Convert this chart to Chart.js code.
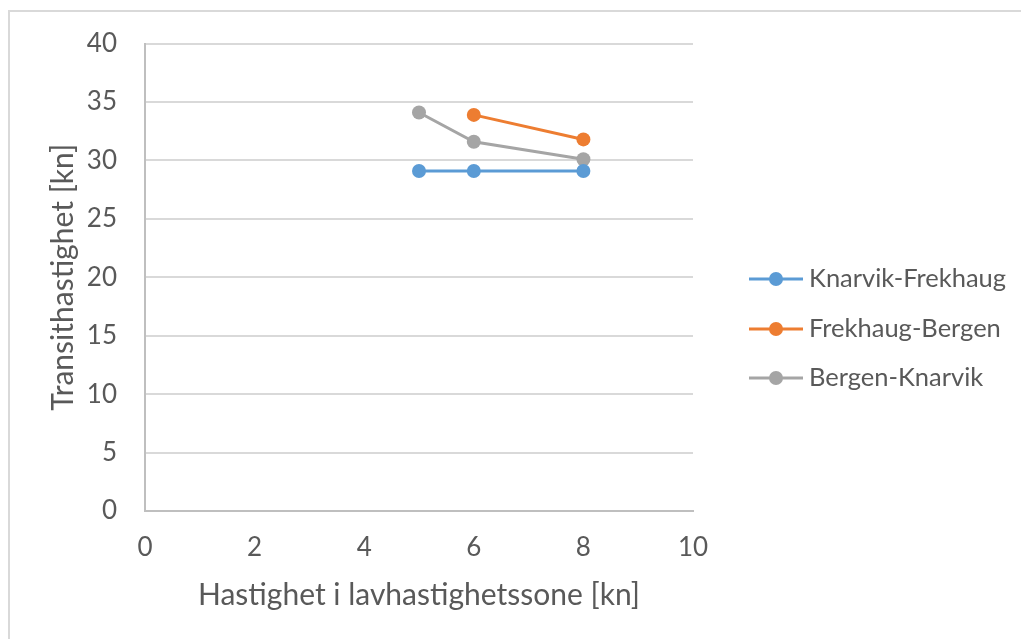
<!DOCTYPE html>
<html>
<head>
<meta charset="utf-8">
<script src="https://cdn.jsdelivr.net/npm/chart.js@4/dist/chart.umd.min.js"></script>
<style>
  html, body { margin: 0; padding: 0; background: #ffffff; }
  #wrap { width: 1021px; height: 639px; }
</style>
</head>
<body>
<div id="wrap"><canvas id="chart" width="1021" height="639"></canvas></div>
<script>
// Speed in the low-speed zone [kn] and resulting transit speed [kn] per route
const seriesNames = ['Knarvik-Frekhaug', 'Frekhaug-Bergen', 'Bergen-Knarvik'];
const knarvikFrekhaugX = [5, 6, 8];
const knarvikFrekhaugY = [29.1, 29.1, 29.1];
const frekhaugBergenX = [6, 8];
const frekhaugBergenY = [33.9, 31.8];
const bergenKnarvikX = [5, 6, 8];
const bergenKnarvikY = [34.1, 31.6, 30.1];
const seriesColors = ['#5B9BD5', '#ED7D31', '#A5A5A5'];

const xTitle = 'Hastighet i lavhastighetssone [kn]';
const yTitle = 'Transithastighet [kn]';

const FONT = 'Lato, "Open Sans", sans-serif';
const TEXT = '#595959';

function toPoints(xs, ys) {
  return xs.map((x, i) => ({ x: x, y: ys[i] }));
}

const seriesData = [
  toPoints(knarvikFrekhaugX, knarvikFrekhaugY),
  toPoints(frekhaugBergenX, frekhaugBergenY),
  toPoints(bergenKnarvikX, bergenKnarvikY)
];

const datasets = seriesNames.map((name, i) => ({
  label: name,
  data: seriesData[i],
  borderColor: seriesColors[i],
  backgroundColor: seriesColors[i],
  borderWidth: 3,
  pointRadius: 7,
  pointHoverRadius: 7,
  pointBorderWidth: 0,
  pointBackgroundColor: seriesColors[i],
  tension: 0,
  showLine: true,
  fill: false
}));

// Thin outer frame of the chart object
const framePlugin = {
  id: 'frame',
  beforeDraw(chart) {
    const ctx = chart.ctx;
    ctx.save();
    ctx.fillStyle = '#ffffff';
    ctx.fillRect(0, 0, chart.width, chart.height);
    ctx.strokeStyle = '#d9d9d9';
    ctx.lineWidth = 2;
    ctx.strokeRect(9, 11, chart.width + 20, chart.height + 20);
    ctx.restore();
  }
};

// Legend on the right: line + marker sample followed by the series name
const sideLegend = {
  id: 'sideLegend',
  afterDraw(chart) {
    const ctx = chart.ctx;
    const rows = [279, 329, 378];
    ctx.save();
    chart.data.datasets.forEach((ds, i) => {
      const y = rows[i];
      ctx.strokeStyle = ds.borderColor;
      ctx.lineWidth = 3;
      ctx.beginPath();
      ctx.moveTo(749, y);
      ctx.lineTo(803, y);
      ctx.stroke();
      ctx.fillStyle = ds.borderColor;
      ctx.beginPath();
      ctx.arc(776, y, 7, 0, Math.PI * 2);
      ctx.fill();
      ctx.fillStyle = TEXT;
      ctx.font = '25.5px ' + FONT;
      ctx.textAlign = 'left';
      ctx.textBaseline = 'middle';
      ctx.fillText(ds.label, 809, y);
    });
    ctx.restore();
  }
};

new Chart(document.getElementById('chart'), {
  type: 'scatter',
  data: { datasets: datasets },
  plugins: [framePlugin, sideLegend],
  options: {
    responsive: false,
    devicePixelRatio: 1,
    animation: false,
    layout: { padding: { left: 0, top: 41, right: 328, bottom: 0 } },
    plugins: {
      legend: { display: false },
      tooltip: { enabled: false }
    },
    scales: {
      x: {
        type: 'linear',
        min: 0,
        max: 10,
        ticks: { stepSize: 2, color: TEXT, font: { family: FONT, size: 26 }, padding: 21 },
        grid: { display: false, drawTicks: false },
        border: { display: true, color: '#bfbfbf', width: 2 },
        title: { display: true, text: xTitle, color: TEXT, font: { family: FONT, size: 30 }, padding: { top: 0, bottom: 26 } },
        afterFit(scale) { scale.height = 128; }
      },
      y: {
        type: 'linear',
        min: 0,
        max: 40,
        ticks: { stepSize: 5, color: TEXT, font: { family: FONT, size: 26 }, padding: 28 },
        grid: {
          drawTicks: false,
          lineWidth: 2,
          color: (c) => (c.tick && c.tick.value === 0 ? '#bfbfbf' : '#d9d9d9')
        },
        border: { display: true, color: '#bfbfbf', width: 2 },
        title: { display: true, text: yTitle, color: TEXT, font: { family: FONT, size: 30 }, padding: { top: 45, bottom: 0 } },
        afterFit(scale) { scale.width = 145; }
      }
    }
  }
});
</script>
</body>
</html>
